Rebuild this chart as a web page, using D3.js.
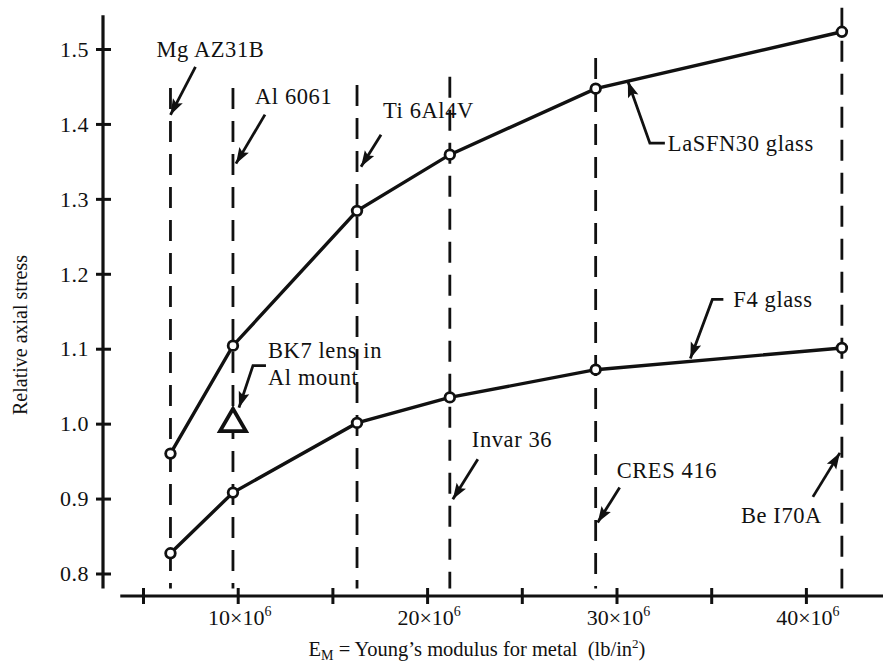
<!DOCTYPE html>
<html lang="en">
<head>
    <meta charset="UTF-8">
    <title>Relative axial stress</title>
    <script src="https://cdn.jsdelivr.net/npm/d3@7/dist/d3.min.js"></script>
    <style>
        body { margin: 0; background: #fff; }
        text { font-family: "Liberation Serif", "Times New Roman", serif; fill: #111; }
    </style>
</head>
<body>
<svg width="883" height="666"></svg>
<script>
    // data (modulus in units of 10^6 lb/in^2)
    var metals = ["Mg AZ31B", "Al 6061", "Ti 6Al4V", "Invar 36", "CRES 416", "Be I70A"];
    var modulus = [6.45, 9.75, 16.3, 21.2, 28.9, 41.9];
    var lasfn30 = [0.960, 1.104, 1.284, 1.359, 1.447, 1.523];
    var f4 = [0.827, 0.908, 1.001, 1.035, 1.072, 1.101];
    var bk7 = {modulus: 9.75, stress: 1.0};
    var dashTop = [1.448, 1.448, 1.452, 1.463, 1.488, 1.555]; // where each dashed line starts
    var yTicks = [0.8, 0.9, 1.0, 1.1, 1.2, 1.3, 1.4, 1.5];
    var xTicks = [5, 10, 15, 20, 25, 30, 35, 40];
    var xLabels = [10, 20, 30, 40];

    var svg = d3.select("svg");
    var x = d3.scaleLinear().domain([0, 40]).range([48.3, 805.9]);
    var y = d3.scaleLinear().domain([0.8, 1.5]).range([573.5, 49]);
    var xAxisY = 596, yAxisX = 103;

    svg.append("defs").append("marker")
        .attr("id", "arr").attr("markerUnits", "userSpaceOnUse")
        .attr("viewBox", "-17 -6 18 12").attr("refX", 0).attr("refY", 0)
        .attr("markerWidth", 18).attr("markerHeight", 12).attr("orient", "auto")
        .append("path").attr("d", "M0,0 L-16,-5.5 L-13,0 L-16,5.5 Z").attr("fill", "#111");

    // y axis
    var ya = svg.append("g").attr("transform", "translate(" + yAxisX + ",0)")
        .call(d3.axisLeft(y).tickValues(yTicks).tickFormat(d3.format(".1f")).tickSize(0).tickPadding(14));
    ya.select(".domain").remove();
    ya.append("line").attr("y1", y(1.545)).attr("y2", y(0.78)).attr("stroke", "#111").attr("stroke-width", 3.2);
    ya.selectAll(".tick line").attr("x1", -7).attr("x2", 8).attr("stroke", "#111").attr("stroke-width", 3);
    ya.selectAll(".tick text").attr("font-size", 22).attr("font-family", "Liberation Serif")
        .attr("fill", "#111").attr("dy", "0.33em").attr("letter-spacing", 0.5);

    // x axis
    var xa = svg.append("g").attr("transform", "translate(0," + xAxisY + ")")
        .call(d3.axisBottom(x).tickValues(xTicks).tickFormat("").tickSize(0));
    xa.select(".domain").remove();
    xa.append("line").attr("x1", x(3.8)).attr("x2", 883).attr("stroke", "#111").attr("stroke-width", 3.2);
    xa.selectAll(".tick line").attr("y1", -8).attr("y2", 8).attr("stroke", "#111").attr("stroke-width", 3);
    xLabels.forEach(function (v) {
        var t = xa.append("text").attr("x", x(v) + 2).attr("y", 29).attr("text-anchor", "middle").attr("font-size", 22);
        t.append("tspan").text(v + "\u00d710");
        t.append("tspan").attr("dy", -9).attr("font-size", 14).text("6");
    });

    // axis titles
    var xt = svg.append("text").attr("x", 477).attr("y", 656).attr("text-anchor", "middle").attr("font-size", 20.5);
    xt.append("tspan").text("E");
    xt.append("tspan").attr("dy", 4).attr("font-size", 14).text("M");
    xt.append("tspan").attr("dy", -4).text(" = Young\u2019s modulus for metal \u00a0(lb/in");
    xt.append("tspan").attr("dy", -8).attr("font-size", 13).text("2");
    xt.append("tspan").attr("dy", 8).text(")");

    svg.append("text").attr("transform", "translate(27,335) rotate(-90)")
        .attr("text-anchor", "middle").attr("font-size", 20).text("Relative axial stress");

    // dashed metal lines
    svg.append("g").selectAll("line").data(modulus).enter().append("line")
        .attr("x1", function (d) { return x(d); }).attr("x2", function (d) { return x(d); })
        .attr("y1", function (d, i) { return y(dashTop[i]); }).attr("y2", y(0.78))
        .attr("stroke", "#111").attr("stroke-width", 2.8).attr("stroke-dasharray", "21,12");

    // glass curves
    var line = d3.line().x(function (d) { return x(d[0]); }).y(function (d) { return y(d[1]); });
    [lasfn30, f4].forEach(function (s) {
        var pts = modulus.map(function (m, i) { return [m, s[i]]; });
        svg.append("path").datum(pts).attr("d", line).attr("fill", "none")
            .attr("stroke", "#111").attr("stroke-width", 3.4);
        svg.append("g").selectAll("circle").data(pts).enter().append("circle")
            .attr("cx", function (d) { return x(d[0]); }).attr("cy", function (d) { return y(d[1]); })
            .attr("r", 4.8).attr("fill", "#fff").attr("stroke", "#111").attr("stroke-width", 2.8);
    });

    // BK7 triangle
    svg.append("path").attr("d", d3.symbol(d3.symbolTriangle, 290)())
        .attr("transform", "translate(" + x(bk7.modulus) + "," + y(bk7.stress) + ")")
        .attr("fill", "#fff").attr("stroke", "#111").attr("stroke-width", 3.8).attr("stroke-linejoin", "miter");

    // annotations: anchor in data units, leader and label offsets in px
    var notes = [
        {lines: [metals[0]], at: [modulus[0], 1.412], path: [[25, -48], [0, 0]], label: [-14, -58]},
        {lines: [metals[1]], at: [modulus[1], 1.347], path: [[32, -49], [3, 0]], label: [22, -60]},
        {lines: [metals[2]], at: [modulus[2], 1.343], path: [[24, -32], [4, 0]], label: [26, -49]},
        {lines: [metals[3]], at: [modulus[3], 0.899], path: [[28, -40], [3, 0]], label: [22, -52]},
        {lines: [metals[4]], at: [modulus[4], 0.868], path: [[24, -35], [2, 0]], label: [21, -45]},
        {lines: [metals[5]], at: [modulus[5], 0.961], path: [[-29, 44], [-2, 0]], label: [-101, 70]},
        {lines: ["LaSFN30 glass"], at: [30.6, 1.457], path: [[37, 62], [22, 62], [0, 0]], label: [40, 70]},
        {lines: ["F4 glass"], at: [33.9, 1.083], path: [[33, -62], [22, -62], [0, -3]], label: [43, -54]},
        {lines: ["BK7 lens in", "Al mount"], at: [bk7.modulus, bk7.stress], path: [[33, -58], [20, -58], [6, -16]], label: [35, -66]}
    ];
    var g = svg.append("g");
    notes.forEach(function (n) {
        var ax = x(n.at[0]), ay = y(n.at[1]);
        g.append("path")
            .attr("d", d3.line()(n.path.map(function (p) { return [ax + p[0], ay + p[1]]; })))
            .attr("fill", "none").attr("stroke", "#111").attr("stroke-width", 2.8)
            .attr("marker-end", "url(#arr)");
        n.lines.forEach(function (s, i) {
            g.append("text").attr("x", ax + n.label[0]).attr("y", ay + n.label[1] + i * 27)
                .attr("font-size", 22.5).attr("letter-spacing", 0.6).text(s);
        });
    });
</script>
</body>
</html>
